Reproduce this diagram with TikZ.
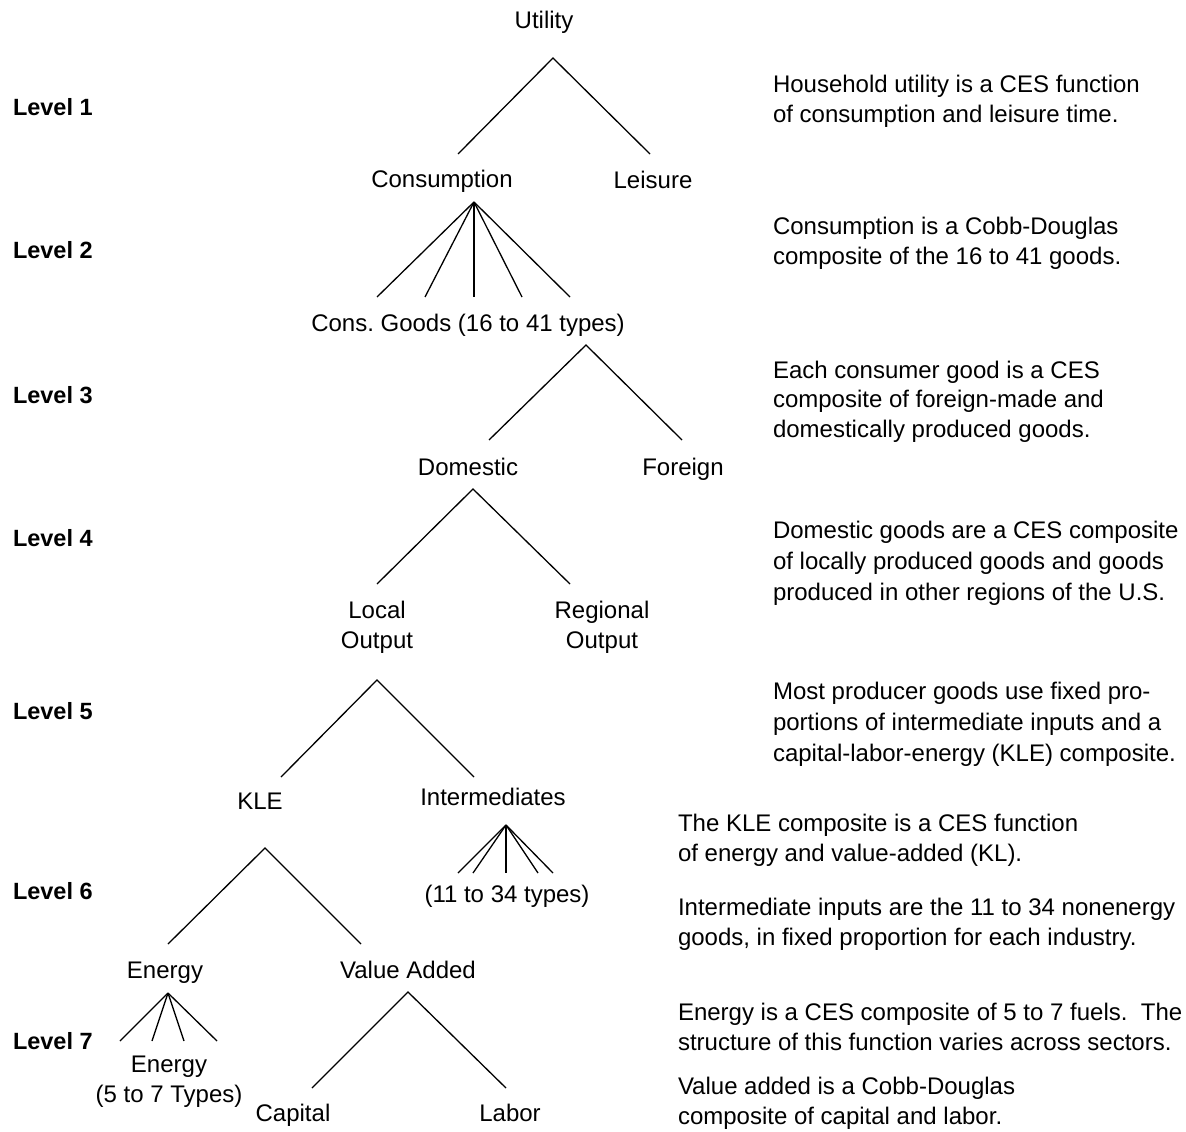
\documentclass[tikz,border=0pt]{standalone}
\usepackage{fontspec}
\setmainfont{Liberation Sans}
\frenchspacing
\begin{document}
\begin{tikzpicture}[x=1pt,y=-1pt,
  every node/.style={inner sep=0pt, outer sep=0pt},
  % multi-line nodes: the base anchor sits on the last line's baseline
  lbl/.style={font=\fontsize{24}{29.5}\selectfont, anchor=base, align=center},
  lvl/.style={font=\fontsize{23.5}{29.5}\selectfont\bfseries, anchor=base west},
  note/.style={font=\fontsize{24}{29.5}\selectfont, anchor=base west, align=left},
  widenote/.style={note, font=\fontsize{24}{31}\selectfont},
  branch/.style={line width=1.3pt, line cap=butt}]
\useasboundingbox (0,0) rectangle (1186,1132);

% ---- level labels ----
\node[lvl] (lv1) at (13,115)  {Level 1};
\node[lvl] (lv2) at (13,258)  {Level 2};
\node[lvl] (lv3) at (13,403)  {Level 3};
\node[lvl] (lv4) at (13,546)  {Level 4};
\node[lvl] (lv5) at (13,719)  {Level 5};
\node[lvl] (lv6) at (13,899)  {Level 6};
\node[lvl] (lv7) at (13,1049) {Level 7};

% ---- tree labels ----
\node[lbl] (utility)  at (544,29)  {Utility};
\node[lbl] (consump)  at (442,187) {Consumption};
\node[lbl] (leisure)  at (653,188) {Leisure};
\node[lbl] (consgood) at (468,331) {Cons. Goods (16 to 41 types)};
\node[lbl] (domestic) at (468,475) {Domestic};
\node[lbl] (foreign)  at (683,475) {Foreign};
\node[lbl] (local)    at (377,648) {Local\\Output};
\node[lbl] (regional) at (602,648) {Regional\\Output};
\node[lbl] (kle)      at (260,809) {KLE};
\node[lbl] (interm)   at (493,805) {Intermediates};
\node[lbl] (inttypes) at (507,902) {(11 to 34 types)};
\node[lbl] (energy)   at (165,978) {Energy};
\node[lbl] (valadd)   at (408,978) {Value Added};
\node[lbl] (entypes)  at (169,1102) {Energy\\(5 to 7 Types)};
\node[lbl] (capital)  at (293,1121) {Capital};
\node[lbl] (labor)    at (510,1121) {Labor};

% ---- fork points and branch ends ----
\coordinate (utility-fork)  at (553,58);
\coordinate (consump-top)   at (458,154);
\coordinate (leisure-top)   at (650,154);
\coordinate (consump-fork)  at (474,202);
\coordinate (consgood-fork) at (586,345);
\coordinate (domestic-top)  at (489,440);
\coordinate (foreign-top)   at (682,440);
\coordinate (domestic-fork) at (473,489);
\coordinate (local-top)     at (377,584);
\coordinate (regional-top)  at (570,584);
\coordinate (local-fork)    at (377,680);
\coordinate (kle-top)       at (281,777);
\coordinate (interm-top)    at (474,777);
\coordinate (interm-fork)   at (506,825);
\coordinate (kle-fork)      at (265,848);
\coordinate (energy-top)    at (168,944);
\coordinate (valadd-top)    at (361,944);
\coordinate (energy-fork)   at (168,993);
\coordinate (valadd-fork)   at (408,992);
\coordinate (capital-top)   at (312,1088);
\coordinate (labor-top)     at (506,1088);

% ---- two-way branches ----
\draw[branch] (consump-top)  -- (utility-fork)  -- (leisure-top);
\draw[branch] (domestic-top) -- (consgood-fork) -- (foreign-top);
\draw[branch] (local-top)    -- (domestic-fork) -- (regional-top);
\draw[branch] (kle-top)      -- (local-fork)    -- (interm-top);
\draw[branch] (energy-top)   -- (kle-fork)      -- (valadd-top);
\draw[branch] (capital-top)  -- (valadd-fork)   -- (labor-top);

% ---- multi-way fans ----
\foreach \i/\x in {1/377,2/425,3/474,4/522,5/570} {
  \coordinate (cg-\i) at (\x,297);
  \draw[branch] (consump-fork) -- (cg-\i);
}
\foreach \i/\x in {1/458,2/473,3/506,4/538,5/553} {
  \coordinate (it-\i) at (\x,873);
  \draw[branch] (interm-fork) -- (it-\i);
}
\foreach \i/\x in {1/120,2/152,3/184,4/217} {
  \coordinate (et-\i) at (\x,1041);
  \draw[branch] (energy-fork) -- (et-\i);
}

% ---- explanatory notes (positioned by their last baseline) ----
\node[note] (n1) at (773,122)  {Household utility is a CES function\\of consumption and leisure time.};
\node[note] (n2) at (773,264)  {Consumption is a Cobb-Douglas\\composite of the 16 to 41 goods.};
\node[note] (n3) at (773,437)  {Each consumer good is a CES\\composite of foreign-made and\\domestically produced goods.};
\node[widenote] (n4) at (773,600) {Domestic goods are a CES composite\\of locally produced goods and goods\\produced in other regions of the U.S.};
\node[widenote] (n5) at (773,761) {Most producer goods use fixed pro-\\portions of intermediate inputs and a\\capital-labor-energy (KLE) composite.};
\node[note] (n6) at (678,861)  {The KLE composite is a CES function\\of energy and value-added (KL).};
\node[note] (n7) at (678,945)  {Intermediate inputs are the 11 to 34 nonenergy\\goods, in fixed proportion for each industry.};
\node[note] (n8) at (678,1050) {Energy is a CES composite of 5 to 7 fuels.\ \ The\\structure of this function varies across sectors.};
\node[note] (n9) at (678,1124) {Value added is a Cobb-Douglas\\composite of capital and labor.};
\end{tikzpicture}
\end{document}
